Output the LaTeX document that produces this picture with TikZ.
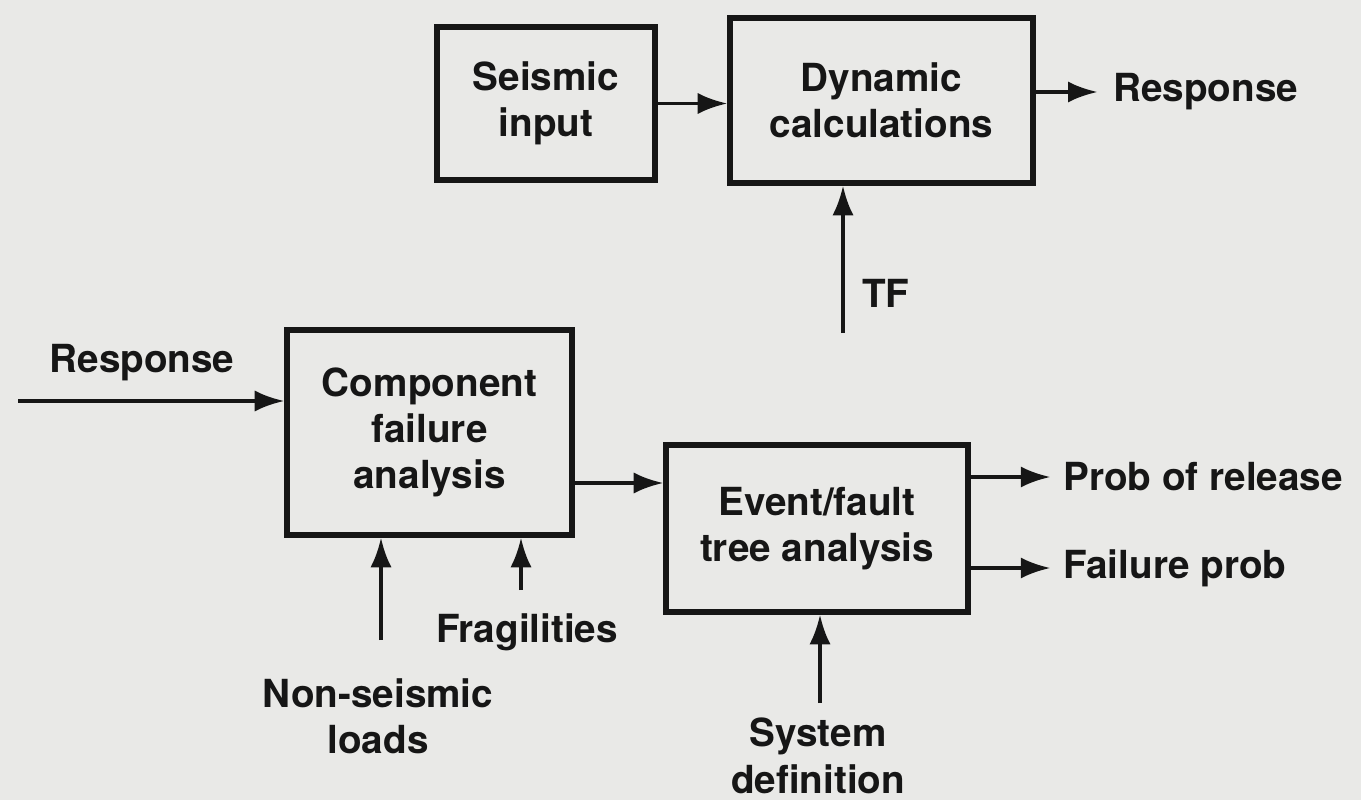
\documentclass[tikz,border=0pt]{standalone}
\usepackage{fontspec}
\setmainfont{TeX Gyre Heros}
\usetikzlibrary{shapes,arrows.meta,positioning}

\definecolor{paper}{RGB}{233,233,231}
\definecolor{ink}{RGB}{22,22,22}
\newlength{\pix}
\setlength{\pix}{0.025cm}

\tikzset{
  blk/.style={draw=ink, line width=3.9pt, align=center, inner sep=0pt, text=ink},
  lbl/.style={align=center, inner sep=0pt, text=ink},
  flow/.style={draw=ink, line width=2.6pt, -{Latex[length=21pt,width=15pt]}},
}

\begin{document}
\begin{tikzpicture}[x=\pix, y=-\pix, font=\fontsize{27.5}{33}\selectfont\bfseries]
\fill[paper] (0,0) rectangle (1361,800);
\useasboundingbox (0,0) rectangle (1361,800);

% blocks
\node[blk, minimum width=218\pix, minimum height=153\pix] (seis) at (546,103.5) {Seismic\\input};
\node[blk, minimum width=303\pix, minimum height=165\pix] (dyn) at (881.5,100.5) {Dynamic\\calculations};
\node[blk, minimum width=285\pix, minimum height=205\pix] (comp) at (429.5,432.5) {Component\\failure\\analysis};
\node[blk, minimum width=302\pix, minimum height=167\pix] (tree) at (817,528.5) {Event/fault\\tree analysis};

% inputs and outputs
\node[lbl, anchor=west] (respout) at (1113,92) {Response};
\node[lbl] (respin) at (142,363) {Response};
\node[lbl, anchor=west] (tf) at (862,293) {TF};
\node[lbl, anchor=west] (rel) at (1063,477) {Prob of release};
\node[lbl, anchor=west] (fail) at (1063,568) {Failure prob};
\node[lbl] (loads) at (378,716) {Non-seismic\\loads};
\node[lbl] (frag) at (527,632) {Fragilities};
\node[lbl] (sysdef) at (818,756) {System\\definition};

\coordinate (inTail) at (18,401);
\coordinate (tfTail) at (843,333);
\coordinate (compOut) at (572,483);
\coordinate (loadTail) at (381,640);
\coordinate (fragTail) at (521,590);
\coordinate (sysTail) at (820,703);

% arrows
\draw[flow] (seis.east) -- (seis.east -| dyn.west);
\draw[flow, shorten >=11pt] (respout.west -| dyn.east) -- (respout.west);
\draw[flow] (tfTail) -- (tfTail |- dyn.south);
\draw[flow] (inTail) -- (inTail -| comp.west);
\draw[flow] (compOut) -- (compOut -| tree.west);
\draw[flow, shorten >=9pt] (rel.west -| tree.east) -- (rel.west);
\draw[flow, shorten >=9pt] (fail.west -| tree.east) -- (fail.west);
\draw[flow] (loadTail) -- (loadTail |- comp.south);
\draw[flow] (fragTail) -- (fragTail |- comp.south);
\draw[flow] (sysTail) -- (sysTail |- tree.south);
\end{tikzpicture}
\end{document}
